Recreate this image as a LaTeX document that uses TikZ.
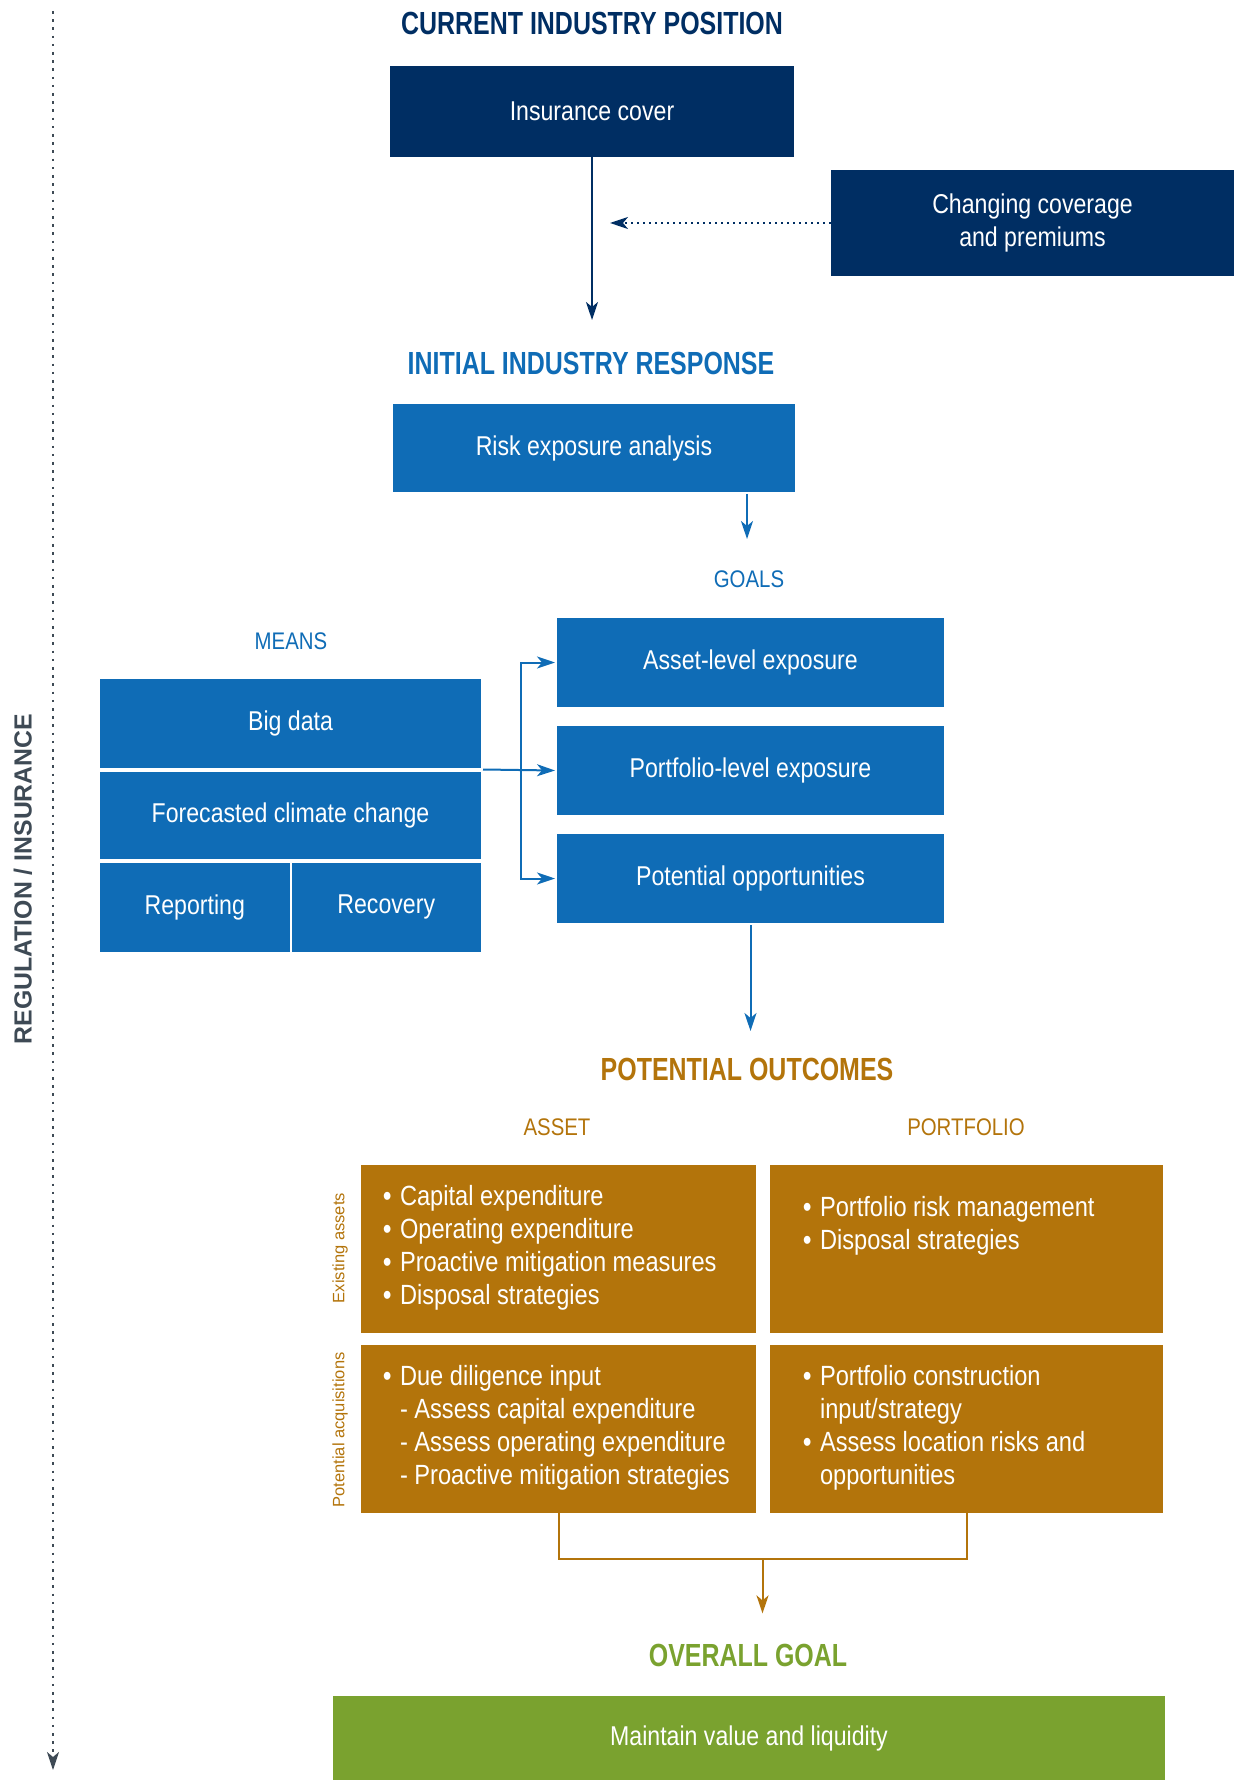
\documentclass[tikz,border=0pt]{standalone}
\usepackage{fontspec}
\setmainfont{Liberation Sans}[FakeStretch=0.85]
\newfontfamily\headfont{Liberation Sans}[FakeStretch=0.78]
\newfontfamily\widefont{Liberation Sans}
\usetikzlibrary{arrows.meta,calc,positioning}
\definecolor{navy}{HTML}{002E63}
\definecolor{midblue}{HTML}{0F6CB6}
\definecolor{ochre}{HTML}{B3740B}
\definecolor{leaf}{HTML}{7AA22F}
\definecolor{slate}{HTML}{3E4A55}
\newcommand{\bul}{\makebox[8.5pt][l]{\textbf{\textbullet}}}
\newcommand{\ind}{\hspace*{8.5pt}}

\begin{document}
\begin{tikzpicture}[x=0.5pt,y=-0.5pt,
  sz/.style 2 args={minimum width=#1*0.5pt,minimum height=#2*0.5pt},
  box/.style={inner sep=0pt,text=white,align=center,font=\fontsize{13.6}{16.5}\selectfont},
  navybox/.style={box,fill=navy},
  bluebox/.style={box,fill=midblue,draw=white,line width=1pt},
  ochrebox/.style={box,fill=ochre},
  head/.style={font=\headfont\bfseries\fontsize{16}{19}\selectfont},
  sub/.style={font=\fontsize{12}{14}\selectfont},
  list/.style={anchor=north west,inner sep=0pt,text=white,align=left,font=\fontsize{13.9}{16.5}\selectfont},
  side/.style={rotate=90,text=ochre,font=\widefont\fontsize{8.25}{10}\selectfont},
  tip/.style={-{Stealth[length=9pt,width=6pt,inset=2.5pt]}}]
  \useasboundingbox (0,0) rectangle (1234,1780);

  \coordinate (regtop) at (53,11);
  \coordinate (regbot) at (53,1770);
  \draw[slate,line width=1.1pt,dash pattern=on 1.3pt off 2.8pt,tip] (regtop) -- (regbot);
  \node[rotate=90,text=slate,font=\widefont\bfseries\fontsize{12.4}{14}\selectfont] (reg) at (23,879) {REGULATION / INSURANCE};

  \node[head,text=navy] (tcur) at (592,23) {CURRENT INDUSTRY POSITION};
  \node[navybox,sz={404}{91}] (ins) at (592,111.5) {Insurance cover};
  \node[navybox,sz={403}{106}] (chg) at (1032.5,223) {Changing coverage\\and premiums};
  \coordinate (insend) at (592,320);
  \coordinate (chgend) at (610,223);
  \draw[navy,line width=1pt,tip] (ins.south) -- (insend);
  \draw[navy,line width=1pt,dotted,tip] (chg.west) -- (chgend);

  \node[head,text=midblue] (tinit) at (591,363) {INITIAL INDUSTRY RESPONSE};
  \node[bluebox,sz={404}{90}] (risk) at (594,448) {Risk exposure analysis};
  \node[sub,text=midblue] (goals) at (749,579) {GOALS};
  \coordinate (riskend) at (747,539);
  \draw[midblue,line width=1pt,tip] (risk.south -| riskend) -- (riskend);

  \node[sub,text=midblue] (means) at (291,641) {MEANS};
  \node[bluebox,sz={383}{91}] (big) at (290.5,723) {Big data};
  \node[bluebox,sz={383}{89},below=0pt of big] (fcc) {Forecasted climate change};
  \node[bluebox,sz={191.5}{91},below right=0pt and 0pt of fcc.south west] (rep) {Reporting};
  \node[bluebox,sz={191.5}{91},below left=0pt and 0pt of fcc.south east] (rec) {Recovery};

  \node[bluebox,sz={389}{91}] (ale) at (750.5,662.5) {Asset-level exposure};
  \node[bluebox,sz={389}{91},below=7.5pt of ale] (ple) {Portfolio-level exposure};
  \node[bluebox,sz={389}{91},below=7.5pt of ple] (popp) {Potential opportunities};
  \coordinate[right=19pt of big.south east] (jn);
  \draw[midblue,line width=1pt,tip] (big.south east) -- (ple.west);
  \draw[midblue,line width=1pt,tip] (jn) |- (ale.west);
  \draw[midblue,line width=1pt,tip] (jn) |- (popp.west);
  \coordinate (poppend) at (750.5,1031);
  \draw[midblue,line width=1pt,tip] (popp.south) -- (poppend);

  \node[head,text=ochre] (tout) at (747,1069) {POTENTIAL OUTCOMES};
  \node[sub,text=ochre] (asset) at (557,1127) {ASSET};
  \node[sub,text=ochre] (port) at (966,1127) {PORTFOLIO};
  \node[ochrebox,sz={395}{168}] (ea) at (558.5,1249) {};
  \node[ochrebox,sz={393}{168}] (ep) at (966.5,1249) {};
  \node[ochrebox,sz={395}{168}] (pa) at (558.5,1429) {};
  \node[ochrebox,sz={393}{168}] (pp) at (966.5,1429) {};
  \node[side] (exist) at (340,1248) {Existing assets};
  \node[side] (acq) at (340,1430) {Potential acquisitions};
  \node[list] (ealist) at ([shift={(22,20)}]ea.north west)
    {\bul Capital expenditure\\\bul Operating expenditure\\\bul Proactive mitigation measures\\\bul Disposal strategies};
  \node[list] (eplist) at ([shift={(33,31)}]ep.north west)
    {\bul Portfolio risk management\\\bul Disposal strategies};
  \node[list] (palist) at ([shift={(22,20)}]pa.north west)
    {\bul Due diligence input\\\ind - Assess capital expenditure\\\ind - Assess operating expenditure\\\ind - Proactive mitigation strategies};
  \node[list] (pplist) at ([shift={(33,20)}]pp.north west)
    {\bul Portfolio construction\\\ind input/strategy\\\bul Assess location risks and\\\ind opportunities};

  \coordinate (mid) at ($(pa.south)!0.5!(pp.south)+(0,46)$);
  \coordinate (midend) at ($(mid)+(0,54)$);
  \draw[ochre,line width=1pt] (pa.south) |- (mid) -| (pp.south);
  \draw[ochre,line width=1pt,tip] (mid) -- (midend);

  \node[head,text=leaf] (tgoal) at (748,1655) {OVERALL GOAL};
  \node[box,fill=leaf,sz={832}{84}] (goal) at (749,1738) {Maintain value and liquidity};
\end{tikzpicture}
\end{document}
